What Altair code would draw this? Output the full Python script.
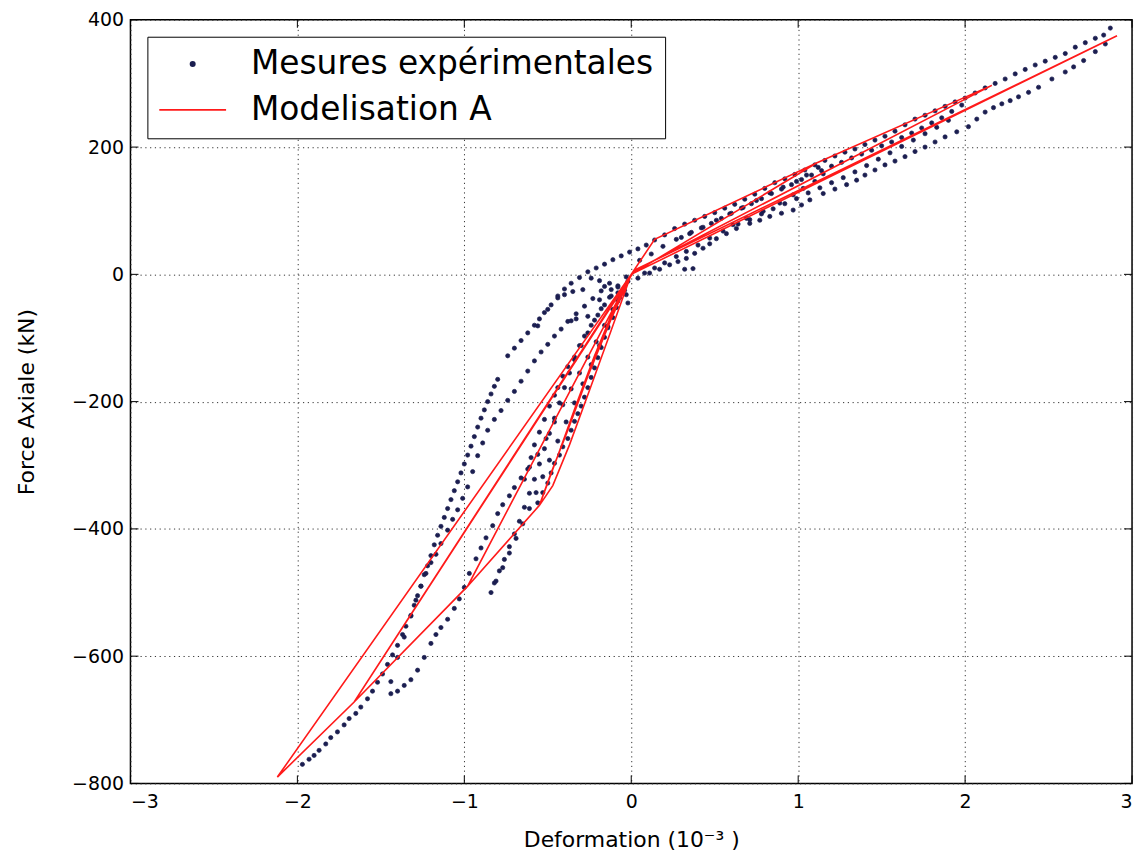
import altair as alt
import pandas as pd

NAVY = "#1b1e50"
RED = "#ff1a1a"
NAMES = ["Mesures expérimentales", "Modelisation A"]

# ---------------- experimental measurements (strain 1e-3, force kN) ----------------
# tension: loading to the final peak
t1_x = [0.20, 0.26, 0.32, 0.38, 0.44, 0.50, 0.56, 0.62, 0.68, 0.74, 0.80, 0.86, 0.92, 0.98, 1.04, 1.10,
        1.16, 1.22, 1.28, 1.34, 1.40, 1.46, 1.52, 1.58, 1.64, 1.70, 1.76, 1.82, 1.88, 1.94, 2.00, 2.06,
        2.12, 2.18, 2.24, 2.30, 2.36, 2.42, 2.48, 2.54, 2.60, 2.66, 2.72, 2.78, 2.83, 2.87]
t1_y = [62, 72, 79, 85, 91, 97, 104, 110, 118, 126, 135, 144, 150, 157, 164, 172,
        179, 186, 192, 197, 204, 211, 217, 225, 235, 244, 250, 257, 264, 271, 277, 285,
        293, 300, 307, 315, 322, 329, 335, 341, 347, 357, 364, 371, 376, 387]
# tension: second loading row
t1b_x = [0.30, 0.36, 0.42, 0.48, 0.54, 0.60, 0.66, 0.72, 0.78, 0.84, 0.90, 0.96, 1.02, 1.08, 1.14,
         1.20, 1.26, 1.32, 1.38, 1.44, 1.50, 1.56, 1.62, 1.68, 1.74, 1.80, 1.86, 1.92, 1.98]
t1b_y = [58, 66, 73, 80, 88, 96, 104, 111, 119, 127, 134, 141, 149, 156, 163,
         170, 176, 183, 189, 195, 202, 208, 215, 222, 230, 238, 246, 256, 266]
# tension: unloading from the peak
t2_x = [2.84, 2.78, 2.71, 2.65, 2.60, 2.52, 2.44, 2.38, 2.32, 2.27, 2.22, 2.17, 2.12, 2.07, 2.02, 1.95,
        1.88, 1.82, 1.76, 1.70, 1.64, 1.58, 1.52, 1.46, 1.40, 1.35, 1.29, 1.22, 1.15, 1.07, 1.02, 0.97,
        0.90, 0.83, 0.77, 0.71, 0.63, 0.57, 0.51, 0.47, 0.43, 0.38, 0.33, 0.28, 0.23, 0.17, 0.11, 0.04]
t2_y = [362, 350, 336, 326, 318, 307, 294, 286, 279, 273, 268, 262, 255, 244, 232, 224,
        216, 208, 200, 193, 185, 178, 172, 164, 156, 148, 141, 134, 127, 117, 109, 101,
        96, 91, 85, 80, 72, 64, 56, 48, 41, 33, 25, 20, 15, 8, 2, -6]
# tension: small cycle loading
t3_x = [0.05, 0.12, 0.19, 0.27, 0.35, 0.43, 0.51, 0.59, 0.67, 0.75, 0.83, 0.91, 0.99, 1.05, 1.12]
t3_y = [22, 32, 44, 55, 64, 74, 85, 95, 105, 116, 128, 137, 146, 156, 168]
# tension: small cycle unloading
t4_x = [1.15, 1.10, 1.03, 0.97, 0.89, 0.79, 0.69, 0.61, 0.55, 0.47, 0.40, 0.33, 0.27, 0.20, 0.14, 0.08]
t4_y = [158, 146, 135, 125, 112, 99, 88, 78, 68, 57, 46, 36, 28, 18, 10, 2]
# tension: intermediate unloading
t5_x = [1.90, 1.83, 1.76, 1.69, 1.62, 1.55, 1.48, 1.41, 1.34, 1.27, 1.20, 1.13, 1.06, 0.99, 0.92,
        0.85, 0.78, 0.71, 0.64]
t5_y = [242, 231, 221, 211, 201, 191, 181, 171, 161, 152, 144, 136, 128, 119, 111,
        103, 95, 86, 79]
t6_x = [0.32, 0.37]
t6_y = [8, 9]

# compression: outer band from the -770 kN peak
c1_x = [-1.97, -1.93, -1.90, -1.87, -1.83, -1.80, -1.76, -1.72, -1.69, -1.65, -1.62, -1.58, -1.55, -1.52,
        -1.49, -1.46, -1.43, -1.40, -1.37, -1.35, -1.32, -1.30, -1.28, -1.26, -1.24, -1.22, -1.20, -1.18,
        -1.16, -1.14, -1.12, -1.10, -1.08, -1.06, -1.04, -1.02, -1.00, -0.98, -0.96, -0.94, -0.92, -0.90,
        -0.88, -0.86, -0.84, -0.82, -0.80]
c1_y = [-770, -762, -756, -748, -738, -728, -719, -708, -698, -690, -680, -667, -655, -641,
        -628, -613, -598, -583, -566, -553, -536, -520, -505, -490, -472, -458, -442, -425,
        -410, -396, -382, -368, -354, -340, -326, -312, -298, -284, -270, -255, -240, -226,
        -213, -200, -188, -176, -165]
c1u_x = [-0.74, -0.70, -0.66, -0.62, -0.58, -0.55, -0.52, -0.48, -0.44, -0.40, -0.36, -0.31, -0.26,
         -0.21, -0.16, -0.11, -0.06, -0.01, 0.04, 0.09, 0.14]
c1u_y = [-128, -116, -104, -92, -80, -70, -60, -48, -34, -23, -14, -5, 4,
         10, 16, 23, 29, 35, 40, 46, 54]
# compression: band from the -650 kN cycle
c2_x = [-1.44, -1.40, -1.36, -1.32, -1.29, -1.26, -1.23, -1.20, -1.17, -1.14, -1.10, -1.07, -1.04, -1.01,
        -0.98, -0.95, -0.92, -0.89, -0.86, -0.82, -0.78, -0.74, -0.70, -0.66, -0.62, -0.58, -0.54, -0.50,
        -0.46, -0.42, -0.38, -0.33, -0.28, -0.23, -0.18, -0.13]
c2_y = [-640, -602, -570, -537, -512, -490, -470, -453, -440, -423, -402, -385, -370, -352,
        -334, -310, -285, -265, -245, -228, -214, -198, -184, -168, -152, -136, -122, -110,
        -97, -86, -74, -62, -50, -38, -26, -14]
c3_x = [-0.06, -0.11, -0.16, -0.21, -0.26, -0.31, -0.36, -0.41, -0.46, -0.51, -0.56, -0.61, -0.66, -0.70,
        -0.73, -0.77, -0.80, -0.83, -0.87, -0.90, -0.93, -0.97, -1.00, -1.03, -1.06, -1.10, -1.14, -1.17,
        -1.20, -1.24, -1.28, -1.32, -1.36, -1.40, -1.44]
c3_y = [-30, -55, -80, -106, -130, -155, -180, -205, -232, -258, -283, -303, -320, -335,
        -348, -362, -376, -395, -414, -430, -447, -470, -492, -510, -525, -542, -555, -566,
        -580, -602, -622, -637, -646, -655, -659]
# compression: -500 kN cycle
c4_x = [-0.04, -0.09, -0.14, -0.19, -0.24, -0.29, -0.34, -0.39, -0.44, -0.49, -0.53, -0.57, -0.61, -0.65,
        -0.69, -0.73, -0.77, -0.81, -0.84]
c4_y = [-25, -52, -82, -112, -142, -172, -202, -232, -262, -292, -318, -343, -368, -392,
        -415, -438, -461, -482, -500]
c4u_x = [-0.82, -0.79, -0.76, -0.73, -0.70, -0.67, -0.64, -0.61, -0.58, -0.55, -0.52, -0.49, -0.46, -0.43,
         -0.40, -0.37, -0.34, -0.30, -0.26, -0.22, -0.18, -0.13, -0.08, -0.03]
c4u_y = [-485, -466, -448, -428, -408, -388, -366, -344, -322, -298, -274, -250, -226, -202,
         -178, -155, -134, -112, -92, -72, -54, -36, -18, -4]
# compression: -360 kN cycle
c5_x = [-0.02, -0.05, -0.07, -0.09, -0.11, -0.14, -0.16, -0.18, -0.20, -0.22, -0.24, -0.26, -0.28, -0.30,
        -0.32, -0.34, -0.36, -0.38, -0.41, -0.43, -0.46, -0.48, -0.50, -0.53, -0.56]
c5_y = [-11, -25, -37, -52, -68, -84, -99, -115, -131, -147, -162, -178, -193, -207,
        -219, -231, -245, -258, -271, -284, -297, -312, -328, -343, -359]
c6_x = [-0.64, -0.62, -0.60, -0.58, -0.55, -0.52, -0.49, -0.46, -0.44, -0.41, -0.38, -0.34, -0.31, -0.28,
        -0.24, -0.20, -0.16, -0.12, -0.08]
c6_y = [-322, -306, -288, -268, -248, -228, -207, -190, -178, -160, -145, -130, -112, -97,
        -80, -64, -48, -34, -20]
c7_x = [-0.56, -0.50, -0.44, -0.40, -0.35, -0.29, -0.24, -0.19, -0.16, -0.12, -0.08, -0.03, -0.36, -0.33,
        -0.26, -0.19, -0.08, -0.02]
c7_y = [-81, -55, -37, -32, -27, -24, -6, -10, -19, -24, -29, -32, -73, -70,
        -66, -40, -42, -45]

# ---------------- model A path (in loading order) ----------------
model_x = [0, 0.14, 0, -0.10, -0.22, -0.33, -0.44, -0.55, -0.47, -0.37, -0.25, -0.12, 0,
           0.14, 1.11, 0, -0.12, -0.26, -0.38, -0.48, -0.55, -0.98, 0, -0.98, -1.66, 0,
           1.11, 2.16, 0.02, -1.66, -2.12, 0, 2.91, 0.03]
model_y = [0, 55, 0, -52, -128, -205, -285, -363, -332, -268, -182, -88, 0,
           55, 175, 0, -70, -160, -245, -312, -363, -490, 0, -490, -672, 0,
           175, 297, 6, -672, -790, 0, 375, 8]

x_ticks = [-3, -2, -1, 0, 1, 2, 3]
y_ticks = [-800, -600, -400, -200, 0, 200, 400]

branches = [(t1_x, t1_y), (t1b_x, t1b_y), (t2_x, t2_y), (t3_x, t3_y), (t4_x, t4_y), (t5_x, t5_y),
            (t6_x, t6_y), (c1_x, c1_y), (c1u_x, c1u_y), (c2_x, c2_y), (c3_x, c3_y), (c4_x, c4_y),
            (c4u_x, c4u_y), (c5_x, c5_y), (c6_x, c6_y), (c7_x, c7_y)]
rows = []
for bx, by in branches:
    for a, b in zip(bx, by):
        rows.append({"x": a, "y": b, "series": NAMES[0]})
pts = pd.DataFrame(rows)
line_df = pd.DataFrame({"x": model_x, "y": model_y, "i": list(range(len(model_x)))})
xt_df = pd.DataFrame({"v": x_ticks})
yt_df = pd.DataFrame({"v": y_ticks})

W, H = 1006, 767
FONT = "DejaVu Sans"

xs = alt.Scale(domain=[-3, 3], nice=False, zero=False)
ys = alt.Scale(domain=[-800, 400], nice=False, zero=False)
x_axis = alt.Axis(values=x_ticks, format="d", title="Deformation (10⁻³ )", grid=True,
                  gridDash=[1.2, 3.6], gridColor="#333333", gridWidth=1, ticks=False, domain=False,
                  labelFont=FONT, labelFontSize=19, labelColor="black", labelPadding=9,
                  titleFont=FONT, titleFontSize=22, titleFontWeight="normal", titleColor="black",
                  titlePadding=18)
y_axis = alt.Axis(values=y_ticks, format="d", title="Force Axiale (kN)", grid=True,
                  gridDash=[1.2, 3.6], gridColor="#333333", gridWidth=1, ticks=False, domain=False,
                  labelFont=FONT, labelFontSize=19, labelColor="black", labelPadding=7,
                  titleFont=FONT, titleFontSize=22, titleFontWeight="normal", titleColor="black",
                  titlePadding=33)
X = alt.X("x:Q", scale=xs, axis=x_axis)
Y = alt.Y("y:Q", scale=ys, axis=y_axis)

leg = alt.Legend(title=None, orient="none", legendX=17, legendY=17, labelFont=FONT, labelFontSize=33,
                 labelColor="black", strokeColor="black", fillColor="white", padding=11, rowPadding=12,
                 symbolOffset=18, labelOffset=42, symbolStrokeWidth=1.8, labelLimit=700)

points = alt.Chart(pts).mark_point(filled=True, opacity=1, strokeWidth=0.7).encode(
    x=X, y=Y,
    color=alt.Color("series:N", scale=alt.Scale(domain=NAMES, range=[NAVY, RED]), legend=leg),
    stroke=alt.Stroke("series:N", scale=alt.Scale(domain=NAMES, range=[NAVY, RED]), legend=leg),
    shape=alt.Shape("series:N", scale=alt.Scale(domain=NAMES, range=["circle", "M-3,0H3"]), legend=leg),
    size=alt.Size("series:N", scale=alt.Scale(domain=NAMES, range=[18, 500]), legend=leg),
)

model = alt.Chart(line_df).mark_line(color=RED, strokeWidth=1.6).encode(
    x=X, y=Y, order=alt.Order("i:Q")
)

tick_len_x = 0.048
tick_len_y = 12.5
bottom_ticks = alt.Chart(xt_df).mark_rule(color="black", strokeWidth=1).encode(
    x=alt.X("v:Q", scale=xs, axis=x_axis),
    y=alt.YDatum(-800, scale=ys, axis=y_axis), y2=alt.datum(-800 + tick_len_y))
top_ticks = alt.Chart(xt_df).mark_rule(color="black", strokeWidth=1).encode(
    x=alt.X("v:Q", scale=xs, axis=x_axis),
    y=alt.YDatum(400, scale=ys, axis=y_axis), y2=alt.datum(400 - tick_len_y))
left_ticks = alt.Chart(yt_df).mark_rule(color="black", strokeWidth=1).encode(
    y=alt.Y("v:Q", scale=ys, axis=y_axis),
    x=alt.XDatum(-3, scale=xs, axis=x_axis), x2=alt.datum(-3 + tick_len_x))
right_ticks = alt.Chart(yt_df).mark_rule(color="black", strokeWidth=1).encode(
    y=alt.Y("v:Q", scale=ys, axis=y_axis),
    x=alt.XDatum(3, scale=xs, axis=x_axis), x2=alt.datum(3 - tick_len_x))

chart = alt.layer(points, model, bottom_ticks, top_ticks, left_ticks, right_ticks).properties(
    width=W, height=H,
    autosize=alt.AutoSizeParams(type="none"),
    padding={"left": 123, "top": 10, "right": 8, "bottom": 66},
    background="white",
).configure_view(stroke="black", strokeWidth=1.5)

chart.save("out.html", embed_options={"renderer": "svg", "actions": False})
